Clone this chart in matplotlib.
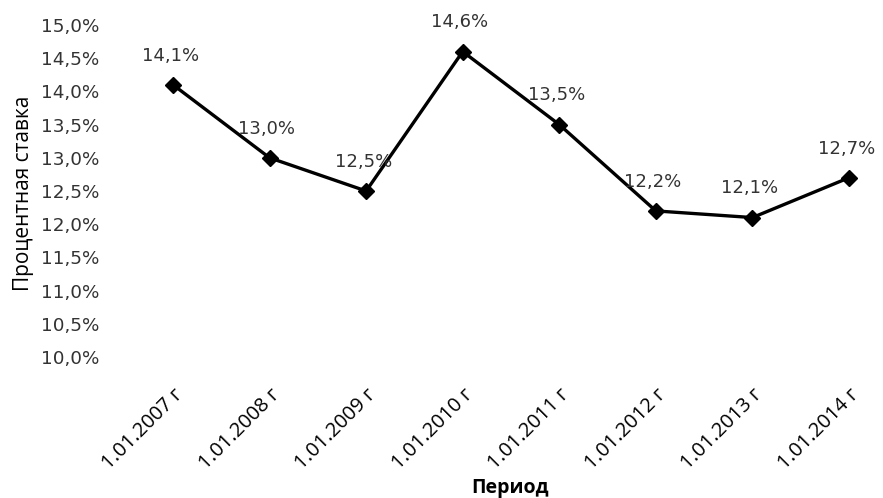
import matplotlib.pyplot as plt
from matplotlib.ticker import FuncFormatter

periods = ["1.01.2007 г", "1.01.2008 г", "1.01.2009 г", "1.01.2010 г",
           "1.01.2011 г", "1.01.2012 г", "1.01.2013 г", "1.01.2014 г"]
rates = [14.1, 13.0, 12.5, 14.6, 13.5, 12.2, 12.1, 12.7]
yticks = [10.0, 10.5, 11.0, 11.5, 12.0, 12.5, 13.0, 13.5, 14.0, 14.5, 15.0]

W, H = 883, 498
fig = plt.figure(figsize=(W / 100, H / 100), dpi=100)
left, right, top, bottom = 110, 880, 25, 357
ax = fig.add_axes([left / W, 1 - bottom / H, (right - left) / W, (bottom - top) / H])

x = list(range(len(periods)))
ax.plot(x, rates, color="black", lw=2.4, marker="D", ms=8, zorder=3)

for xi, v in zip(x, rates):
    ax.annotate(f"{v:.1f}%".replace(".", ","), (xi, v), xytext=(-2, 21),
                textcoords="offset points", ha="center", va="center",
                fontsize=13, color="#333333", family="DejaVu Sans")

spacing = (849 - 173) / 7
ax.set_xlim(-(173 - left) / spacing, 7 + (right - 849) / spacing)
ax.set_ylim(10, 15)
ax.set_yticks(yticks)
ax.yaxis.set_major_formatter(FuncFormatter(lambda v, p: f"{v:.1f}%".replace(".", ",")))
ax.set_xticks(x)
ax.set_xticklabels(periods, rotation=45, ha="right", rotation_mode="anchor",
                   fontsize=14.5, family="Open Sans")
for lab in ax.get_yticklabels():
    lab.set_fontsize(13.2)
    lab.set_color("#333333")
ax.tick_params(length=0, pad=8)
ax.tick_params(axis="x", pad=20)
for s in ax.spines.values():
    s.set_visible(False)

fig.text(24 / W, 1 - 193 / H, "Процентная ставка", rotation=90, ha="center",
         va="center", fontsize=15, family="Open Sans")
fig.text(510 / W, 1 - 488 / H, "Период", ha="center", va="center",
         fontsize=14, fontweight="bold", family="Open Sans")

fig.savefig("out.png", dpi=100)
